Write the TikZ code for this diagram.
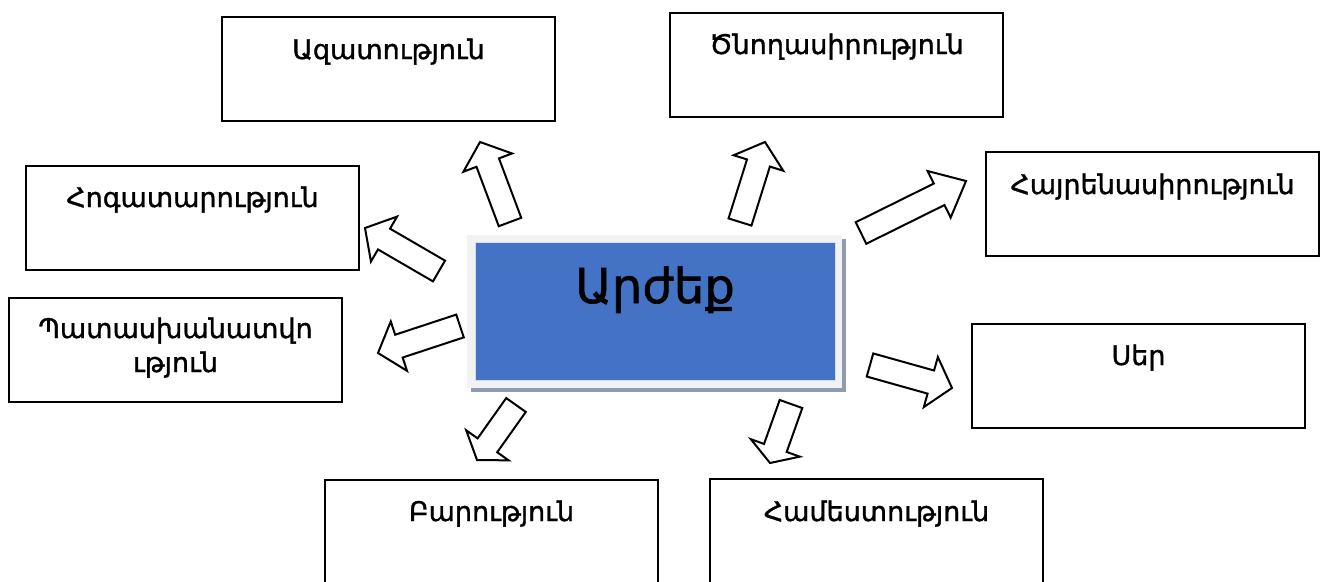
\documentclass[tikz,border=0pt]{standalone}
\usepackage{fontspec}
\setmainfont{DejaVu Sans}
\newfontfamily\armheavy[FakeBold=1.2]{DejaVu Sans}
\usetikzlibrary{calc}
\definecolor{coreblue}{HTML}{4472C4}
\definecolor{coreframe}{HTML}{F2F2F2}
\definecolor{coreshadow}{HTML}{8F9BB5}
\newcommand\blkarrow[3]{%
  \coordinate (hb) at ($(#2)!#3pt!(#1)$);
  \draw[blockarrow] ($(#1)!12pt!90:(#2)$) -- ($(hb)!12pt!-90:(#1)$) -- ($(hb)!26pt!-90:(#1)$) -- (#2)
    -- ($(hb)!26pt!90:(#1)$) -- ($(hb)!12pt!90:(#1)$) -- ($(#1)!12pt!-90:(#2)$) -- cycle;}
\begin{document}
\begin{tikzpicture}[x=1pt,y=-1pt,
  box/.style={draw=black,line width=2pt,minimum width=333pt,minimum height=104pt,inner sep=0pt,fill=white},
  lbl/.style={anchor=base,inner sep=0pt,font=\armheavy\fontsize{27}{33}\selectfont},
  blockarrow/.style={draw=black,line width=2pt,fill=white,line join=miter}]
\useasboundingbox[fill=white] (0,0) rectangle (1327,581);

% boxes
\node[box] (azat) at (388.5,69) {};
\node[lbl] (tazat) at (388.5,59) {Ազատություն};
\node[box] (tsnogh) at (836.5,65) {};
\node[lbl] (ttsnogh) at (836.5,54) {Ծնողասիրություն};
\node[box] (hogat) at (192.5,218) {};
\node[lbl] (thogat) at (192.5,207) {Հոգատարություն};
\node[box] (hayren) at (1152.5,204) {};
\node[lbl] (thayren) at (1152.5,194) {Հայրենասիրություն};
\node[box] (pat) at (175.5,349.5) {};
\node[lbl] (tpat1) at (175.5,338) {Պատասխանատվո};
\node[lbl] (tpat2) at (175.5,372) {ւթյուն};
\node[box] (ser) at (1138.5,376) {};
\node[lbl] (tser) at (1138.5,365) {Սեր};
\node[box] (bar) at (491.5,532) {};
\node[lbl] (tbar) at (491.5,521) {Բարություն};
\node[box] (hamest) at (876.5,531) {};
\node[lbl] (thamest) at (876.5,521) {Համեստություն};

% center
\fill[coreshadow] (471,239) rectangle (846,392);
\node[fill=coreframe,minimum width=375pt,minimum height=153pt,inner sep=0pt] (core) at (654.5,311.5) {};
\fill[coreblue] (475,242) rectangle (835,380);
\draw[white!75!coreblue,line width=0.6pt] (475,242) rectangle (835,380);
\node[anchor=base,inner sep=0pt,font=\armheavy\fontsize{48}{56}\selectfont] (tcore) at (655,303) {Արժեք};

% arrows
\coordinate (t1) at (510,222); \coordinate (p1) at (480,142);
\coordinate (t2) at (740,222); \coordinate (p2) at (765,142);
\coordinate (t3) at (861,233); \coordinate (p3) at (966,181);
\coordinate (t4) at (439,271); \coordinate (p4) at (365,228);
\coordinate (t5) at (460,326); \coordinate (p5) at (378,353);
\coordinate (t6) at (870,365); \coordinate (p6) at (952,388);
\coordinate (t7) at (516,405); \coordinate (p7) at (477,460);
\coordinate (t8) at (791,404); \coordinate (p8) at (770,463);
\blkarrow{t1}{p1}{22}
\blkarrow{t2}{p2}{22}
\blkarrow{t3}{p3}{30}
\blkarrow{t4}{p4}{22}
\blkarrow{t5}{p5}{22}
\blkarrow{t6}{p6}{22}
\blkarrow{t7}{p7}{18}
\blkarrow{t8}{p8}{16}
\end{tikzpicture}
\end{document}
